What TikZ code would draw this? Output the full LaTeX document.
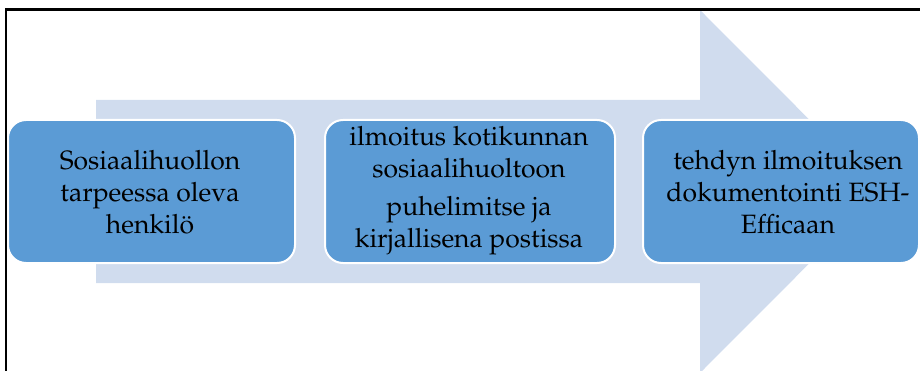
\documentclass[tikz,border=0pt]{standalone}
\newif\ifpala
\IfFileExists{mathpazo.sty}{\IfFileExists{t1ppl.fd}{\palatrue}{\palafalse}}{\palafalse}
\ifpala
  \usepackage[T1]{fontenc}
  \usepackage{mathpazo}
  \newcommand\boxfontsize{\fontsize{26.5}{32}\selectfont}
\else
  \usepackage{fontspec}
  \setmainfont{Liberation Serif}
  \newcommand\boxfontsize{\fontsize{28}{32}\selectfont}
\fi
\definecolor{arrowfill}{HTML}{D0DCEE}
\definecolor{boxfill}{HTML}{5B9BD5}
\begin{document}
\begin{tikzpicture}[x=1pt,y=-1pt,
  stepbox/.style={draw=white, line width=2pt, fill=boxfill, rounded corners=18pt, inner sep=0pt, minimum height=143pt},
  boxtext/.style={align=center, font=\boxfontsize, text=black, inner sep=0pt}]
\useasboundingbox (0,0) rectangle (920,371);
% big background arrow
\fill[arrowfill] (96,100) -- (700,100) -- (700,10) -- (881,191.5) -- (700,373) -- (700,283) -- (96,283) -- cycle;
% boxes
\node[stepbox, minimum width=287pt] (b1) at (151.5,191.5) {};
\node[stepbox, minimum width=290pt] (b2) at (470,191.5) {};
\node[stepbox, minimum width=276pt] (b3) at (781,191.5) {};
% texts
\node[boxtext] (t1) at (150,192) {Sosiaalihuollon\\tarpeessa oleva\\henkil\"o};
\node[boxtext] (t2) at (469,191) {ilmoitus kotikunnan\\sosiaalihuoltoon\\[6pt]puhelimitse ja\\kirjallisena postissa};
\node[boxtext] (t3) at (788,192) {tehdyn ilmoituksen\\dokumentointi ESH-\\Efficaan};
% frame
\draw[line width=2.7pt] (6,371) -- (6,9.2) -- (920,9.2);
\end{tikzpicture}
\end{document}
